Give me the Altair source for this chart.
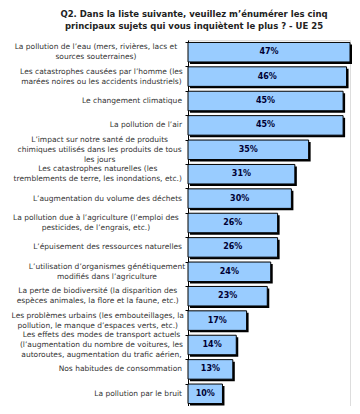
import altair as alt
import pandas as pd

labels = [
    "La pollution de l’eau (mers, rivières, lacs et\nsources souterraines)",
    "Les catastrophes causées par l’homme (les\nmarées noires ou les accidents industriels)",
    "Le changement climatique",
    "La pollution de l’air",
    "L’impact sur notre santé de produits\nchimiques utilisés dans les produits de tous\nles jours",
    "Les catastrophes naturelles (les\ntremblements de terre, les inondations, etc.)",
    "L’augmentation du volume des déchets",
    "La pollution due à l’agriculture (l’emploi des\npesticides, de l’engrais, etc.)",
    "L’épuisement des ressources naturelles",
    "L’utilisation d’organismes génétiquement\nmodifiés dans l’agriculture",
    "La perte de biodiversité (la disparition des\nespèces animales, la flore et la faune, etc.)",
    "Les problèmes urbains (les embouteillages, la\npollution, le manque d’espaces verts, etc.)",
    "Les effets des modes de transport actuels\n(l’augmentation du nombre de voitures,  les\nautoroutes, augmentation du trafic aérien,",
    "Nos habitudes de consommation",
    "La pollution par le bruit",
]
values = [47, 46, 45, 45, 35, 31, 30, 26, 26, 24, 23, 17, 14, 13, 10]

title_lines = [
    "Q2. Dans la liste suivante, veuillez m’énumérer les cinq",
    "principaux sujets qui vous inquiètent le plus ? - UE 25",
]

df = pd.DataFrame({"label": labels, "value": values})
df["key"] = [f"{i:02d}" for i in range(len(df))]
df["pct"] = df["value"].astype(str) + "%"
df["nlines"] = df["label"].str.count("\n") + 1
df["maxlen"] = df["label"].apply(lambda s: max(len(l) for l in s.split("\n")))

FONT = "DejaVu Sans"
FS = 7.5
LH = 10
order = list(df["key"])

y = alt.Y("key:N", sort=order, title=None,
          scale=alt.Scale(paddingInner=0.2, paddingOuter=0.1),
          axis=alt.Axis(labels=False, ticks=True, domain=True, bandPosition=0,
                        tickSize=3, tickColor="black", domainColor="black",
                        domainWidth=1))
x = alt.X("value:Q", title=None, scale=alt.Scale(domain=[0, 47], nice=False),
          axis=None)
yk = alt.Y("key:N", sort=order)

base = alt.Chart(df)

shadow = base.mark_bar(color="black", xOffset=2, yOffset=2).encode(x=x, y=y)
bars = base.mark_bar(fill="#99CCFF", stroke="black", strokeWidth=1).encode(x=x, y=y)
vals = base.mark_text(font=FONT, fontWeight="bold", fontSize=8, color="#000033").transform_calculate(
    half="datum.value / 2"
).encode(x=alt.X("half:Q", scale=alt.Scale(domain=[0, 47], nice=False), axis=None),
         y=yk, text="pct:N")

single = base.transform_filter("datum.nlines == 1").mark_text(
    font=FONT, fontSize=FS, color="#333333", align="right", baseline="middle", lineHeight=LH
).encode(x=alt.value(-6), y=yk, text="label:N")

def multi_layer(n):
    return base.transform_filter(f"datum.nlines == {n}").transform_calculate(
        px="-7 - datum.maxlen * 3.7 / 2"
    ).mark_text(
        font=FONT, fontSize=FS, color="#333333", align="center", baseline="middle",
        lineHeight=LH, lineBreak="\n", dy=-(n - 1) * LH / 2
    ).encode(x=alt.X("px:Q", scale=None), y=yk, text="label:N")

chart = alt.layer(shadow, bars, vals, single, multi_layer(2), multi_layer(3)).properties(
    width=162, height=366,
    padding={"left": 180, "top": 32, "right": 2, "bottom": 0},
    autosize=alt.AutoSizeParams(type="none"),
    title=alt.Title(title_lines, anchor="middle", dx=-75, offset=10, fontSize=8.5,
                    lineHeight=12, font=FONT, fontWeight="bold", color="#222222"),
).configure_view(stroke=None).configure(background="white")

chart.save("out.html", embed_options={"renderer": "svg", "actions": False})
